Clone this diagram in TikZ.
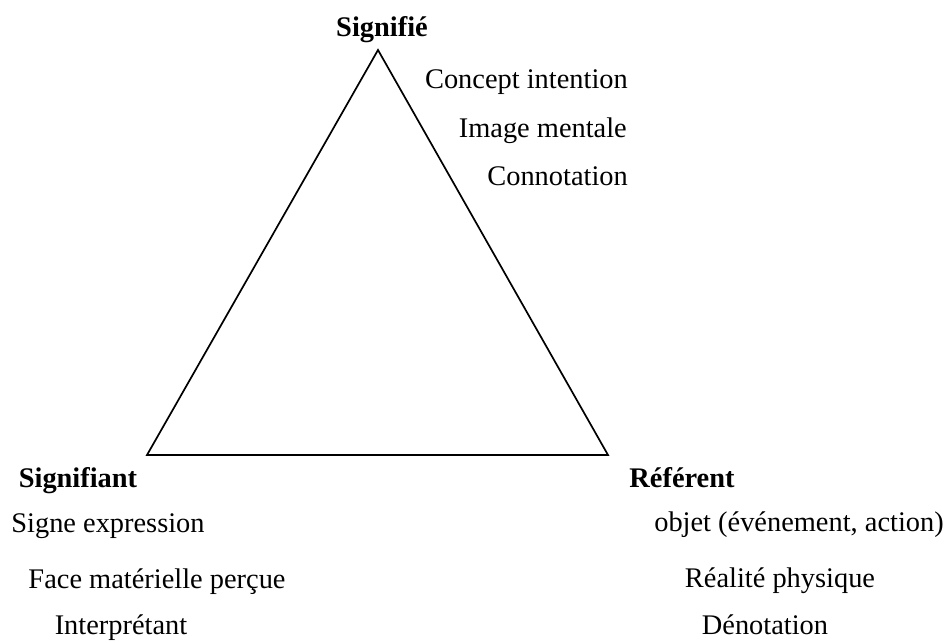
\documentclass[tikz,border=0pt]{standalone}
\usepackage{fontspec}
\setmainfont{Liberation Serif}
\usepackage{tikz}

\tikzset{
  side/.style={black,line width=1.7pt,line join=miter},
  txt/.style={font=\fontsize{28.4}{34}\selectfont,inner sep=0pt,anchor=base},
  head/.style={txt,font=\fontsize{28.4}{34}\selectfont\bfseries}
}

\begin{document}
\begin{tikzpicture}[x=1pt,y=-1pt]
            \fill[white] (0,0) rectangle (952,642);
            \useasboundingbox (0,0) rectangle (952,642);
            % triangle
            \coordinate (top) at (378,50);
            \coordinate (left) at (147,455);
            \coordinate (right) at (608,455);
            \draw[side] (top) -- (left) -- (right) -- cycle;
            % signifie
            \node[head] (signifie) at (382,37) {Signifié};
            \node[txt,anchor=base east] (concept) at (628,88) {Concept intention};
            \node[txt,anchor=base east] (image) at (627,137) {Image mentale};
            \node[txt,anchor=base east] (connot) at (628,185) {Connotation};
            % signifiant
            \node[head] (signifiant) at (78,487) {Signifiant};
            \node[txt] (signe) at (108,532) {Signe expression};
            \node[txt] (face) at (157,588) {Face matérielle perçue};
            \node[txt] (interp) at (121,634) {Interprétant};
            % referent
            \node[head] (referent) at (682,487) {Référent};
            \node[txt] (objet) at (799,531) {objet (événement, action)};
            \node[txt] (realite) at (780,587) {Réalité physique};
            \node[txt] (denot) at (765,634) {Dénotation};
        \end{tikzpicture}
\end{document}
